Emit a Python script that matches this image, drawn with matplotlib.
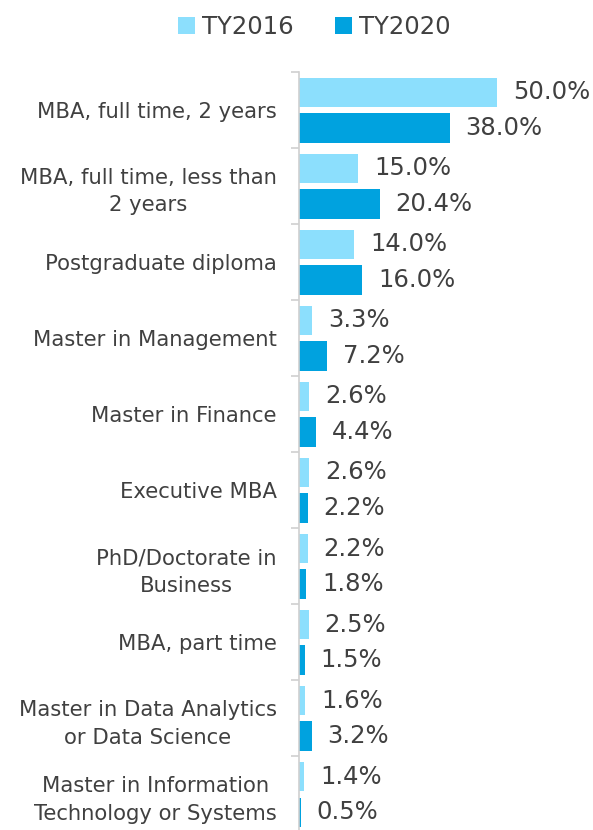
import matplotlib
matplotlib.use("Agg")
import matplotlib.pyplot as plt
import numpy as np

categories = ["MBA, full time, 2 years",
              "MBA, full time, less than\n2 years",
              "Postgraduate diploma",
              "Master in Management",
              "Master in Finance",
              "Executive MBA",
              "PhD/Doctorate in\nBusiness",
              "MBA, part time",
              "Master in Data Analytics\nor Data Science",
              "Master in Information\nTechnology or Systems"]
ty2016 = [50.0, 15.0, 14.0, 3.3, 2.6, 2.6, 2.2, 2.5, 1.6, 1.4]
ty2020 = [38.0, 20.4, 16.0, 7.2, 4.4, 2.2, 1.8, 1.5, 3.2, 0.5]
series_names = ["TY2016", "TY2020"]

light = "#8CDFFD"
dark = "#00A2DF"
txt = "#404040"

plt.rcParams['font.family'] = ['DejaVu Sans']

fig = plt.figure(figsize=(5.93, 8.30), dpi=100)
ax = fig.add_axes([0.504, -0.003, 0.496, 0.916])

y = np.arange(len(categories))
h = 0.39
b1 = ax.barh(y - 0.235, ty2016, height=h, color=light, label=series_names[0])
b2 = ax.barh(y + 0.235, ty2020, height=h, color=dark, label=series_names[1])

for bars, vals in ((b1, ty2016), (b2, ty2020)):
    for bar, v in zip(bars, vals):
        ax.text(bar.get_width() + 4, bar.get_y() + bar.get_height() / 2,
                "%.1f%%" % v, va="center", ha="left", fontsize=17.5, color=txt)

ax.set_xlim(0, 74.2)
ax.set_ylim(len(categories) - 0.5, -0.5)

ax.set_yticks(y)
ax.set_yticklabels(categories, fontsize=15.2, color=txt, ha="right",
                   multialignment="center")
for lab in ax.get_yticklabels():
    lab.set_linespacing(1.45)
ax.tick_params(axis="y", which="major", length=0, pad=16)
ax.set_yticks(np.arange(-0.5, len(categories)), minor=True)
ax.tick_params(axis="y", which="minor", length=6, color="#d0d0d0", width=1.2)

ax.set_xticks([])
for s in ("top", "right", "bottom"):
    ax.spines[s].set_visible(False)
ax.spines["left"].set_color("#d0d0d0")
ax.spines["left"].set_linewidth(1.2)

fig.legend(handles=[b1, b2], labels=series_names, loc="upper center",
           bbox_to_anchor=(0.53, 1.008), ncol=2, frameon=False, fontsize=17.5,
           handlelength=0.7, handleheight=0.7, handletextpad=0.3,
           columnspacing=1.7, labelcolor=txt)

plt.savefig("out.png", dpi=100)
